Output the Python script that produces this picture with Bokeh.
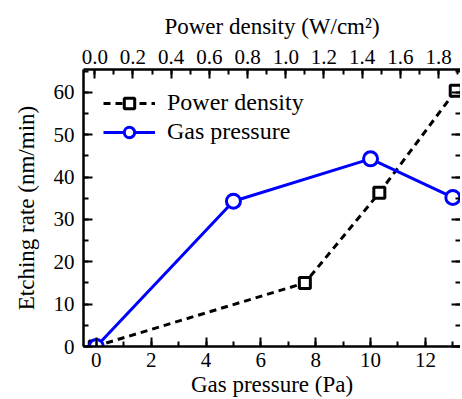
from bokeh.plotting import figure
from bokeh.models import (LinearAxis, Range1d, SingleIntervalTicker, PrintfTickFormatter,
                          CustomJSTickFormatter, Legend, LegendItem)
from bokeh.embed import file_html
from bokeh.resources import INLINE

# Data
power_density = [0.0, 1.10, 1.49, 1.89]       # W/cm^2 (top axis)
rate_power = [0.0, 15.0, 36.3, 60.4]          # nm/min
gas_pressure = [0.0, 5.0, 10.0, 13.0]         # Pa (bottom axis)
rate_gas = [0.0, 34.3, 44.3, 35.2]            # nm/min

FONT = "'Liberation Serif', 'Times New Roman', serif"

p = figure(frame_width=377, frame_height=277,
           x_range=Range1d(-0.467, 13.28), y_range=Range1d(0, 65.4),
           output_backend="svg", toolbar_location=None,
           min_border_left=83, min_border_top=69, min_border_bottom=52, min_border_right=0,
           x_axis_location=None, y_axis_location=None)
p.extra_x_ranges = {"power": Range1d(-0.059, 1.915)}
p.outline_line_color = None
p.xgrid.visible = False
p.ygrid.visible = False
p.background_fill_color = "white"
p.border_fill_color = "white"

def style(ax):
    ax.axis_line_width = 2.5
    ax.axis_line_color = "black"
    ax.major_tick_in = 9
    ax.major_tick_out = 0
    ax.minor_tick_in = 5
    ax.minor_tick_out = 0
    ax.major_tick_line_width = 2
    ax.minor_tick_line_width = 2
    ax.major_tick_line_color = "black"
    ax.minor_tick_line_color = "black"
    ax.major_label_text_font = FONT
    ax.major_label_text_font_size = "21px"
    ax.major_label_text_color = "black"
    ax.axis_label_text_font = FONT
    ax.axis_label_text_font_size = "23px"
    ax.axis_label_text_font_style = "normal"
    ax.axis_label_text_color = "black"

xb = LinearAxis(ticker=SingleIntervalTicker(interval=2, num_minor_ticks=2),
                axis_label="Gas pressure (Pa)")
style(xb)
xb.major_label_standoff = 6
xb.axis_label_standoff = 2
p.add_layout(xb, "below")

xt = LinearAxis(x_range_name="power",
                ticker=SingleIntervalTicker(interval=0.2, num_minor_ticks=2),
                formatter=PrintfTickFormatter(format="%.1f"),
                axis_label="Power density (W/cm²)")
style(xt)
xt.major_label_standoff = 6
xt.axis_label_standoff = 8
p.add_layout(xt, "above")

yl = LinearAxis(ticker=SingleIntervalTicker(interval=10, num_minor_ticks=2),
                axis_label="Etching rate (nm/min)")
style(yl)
yl.major_label_standoff = 9
yl.axis_label_standoff = 12
p.add_layout(yl, "left")

yr = LinearAxis(ticker=SingleIntervalTicker(interval=10, num_minor_ticks=2),
                formatter=CustomJSTickFormatter(code="return ''"))
style(yr)
yr.major_label_standoff = 0
yr.axis_line_alpha = 0
p.add_layout(yr, "right")

l1 = p.line(power_density, rate_power, x_range_name="power", line_color="black",
            line_width=3, line_dash="7 5")
s1 = p.scatter(power_density, rate_power, x_range_name="power", marker="square", size=11,
               line_color="black", line_width=3, fill_color="white")
l2 = p.line(gas_pressure, rate_gas, line_color="#0000ff", line_width=3)
s2 = p.scatter(gas_pressure, rate_gas, marker="circle", size=14,
               line_color="#0000ff", line_width=3, fill_color="white")

legend = Legend(items=[LegendItem(label="Power density", renderers=[l1, s1]),
                       LegendItem(label="Gas pressure", renderers=[l2, s2])],
                location="top_left")
legend.margin = 18
legend.padding = 2
legend.spacing = 2
legend.glyph_width = 52
legend.glyph_height = 26
legend.label_height = 26
legend.label_standoff = 12
legend.label_text_font = FONT
legend.label_text_font_size = "24px"
legend.label_text_color = "black"
legend.background_fill_alpha = 0
legend.border_line_alpha = 0
p.add_layout(legend)

open("out.html", "w").write(file_html(p, INLINE))
